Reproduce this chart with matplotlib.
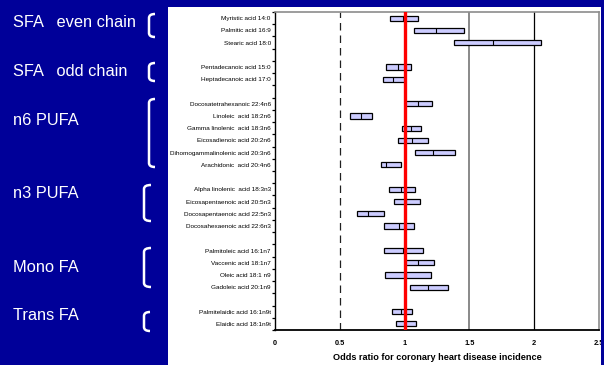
import matplotlib
matplotlib.use("Agg")
import matplotlib.pyplot as plt
import numpy as np
from matplotlib.patches import Rectangle, PathPatch
from matplotlib.path import Path
from matplotlib.transforms import Affine2D

plt.rcParams['font.family'] = ['Liberation Sans', 'DejaVu Sans']

# ---- data -------------------------------------------------------------
groups = ["SFA   even chain", "SFA   odd chain", "n6 PUFA", "n3 PUFA", "Mono FA", "Trans FA"]
acids = [
    "Myristic acid 14:0", "Palmitic acid 16:9", "Stearic acid 18:0",
    "Pentadecanoic acid 15:0", "Heptadecanoic acid 17:0",
    "Docosatetrahexanoic 22:4n6", "Linoleic  acid 18:2n6", "Gamma linolenic  acid 18:3n6",
    "Eicosadienoic acid 20:2n6", "Dihomogammalinolenic acid 20:3n6", "Arachidonic  acid 20:4n6",
    "Alpha linolenic  acid 18:3n3", "Eicosapentaenoic acid 20:5n3",
    "Docosapentaenoic acid 22:5n3", "Docosahexaenoic acid 22:6n3",
    "Palmitoleic acid 16:1n7", "Vaccenic acid 18:1n7", "Oleic acid 18:1 n9", "Gadoleic acid 20:1n9",
    "Palmitelaidic acid 16:1n9t", "Elaidic acid 18:1n9t",
]
acid_group = [0, 0, 0, 1, 1, 2, 2, 2, 2, 2, 2, 3, 3, 3, 3, 4, 4, 4, 4, 5, 5]
ci_low = [0.89, 1.07, 1.38, 0.86, 0.83, 1.00, 0.58, 0.98, 0.95, 1.08, 0.82,
          0.88, 0.92, 0.63, 0.84, 0.84, 1.00, 0.85, 1.04, 0.905, 0.93]
odds = [0.985, 1.24, 1.68, 0.95, 0.91, 1.10, 0.665, 1.05, 1.06, 1.22, 0.86,
        0.97, 1.01, 0.72, 0.96, 0.985, 1.10, 1.01, 1.18, 0.97, 1.00]
ci_high = [1.10, 1.46, 2.05, 1.05, 1.00, 1.21, 0.75, 1.13, 1.18, 1.39, 0.975,
           1.08, 1.12, 0.84, 1.075, 1.145, 1.225, 1.205, 1.335, 1.055, 1.09]
x_ticks = [0, 0.5, 1, 1.5, 2, 2.5]
x_tick_labels = ["0", "0.5", "1", "1.5", "2", "2.5"]
reference_or = 1.0

# ---- figure -----------------------------------------------------------
W, H = 604, 365
BG = '#000099'
fig = plt.figure(figsize=(W / 100, H / 100), dpi=100, facecolor=BG)
px = Affine2D().scale(1 / W, -1 / H).translate(0, 1) + fig.transFigure

# white chart panel
fig.patches.append(Rectangle((168, 7), 433, 360, transform=px, facecolor='white',
                             edgecolor='none', zorder=-5))

ax = fig.add_axes([275 / W, 1 - 330 / H, 324 / W, 318 / H])
ax.set_facecolor('white')

# row positions: one empty row between consecutive groups
ypos = np.arange(len(acids)) + np.array(acid_group) + 0.5
n_rows = len(acids) + len(groups) - 1

ax.set_xlim(0, 2.5)
ax.set_ylim(n_rows, 0)

# reference lines
ax.axvline(0.5, color='#202020', lw=0.9, ls=(0, (6, 4)), zorder=1)
ax.axvline(1.5, color='#808080', lw=1.3, zorder=1)
ax.axvline(2.0, color='black', lw=0.9, zorder=1)

# confidence interval boxes with point estimate
ci_low_a = np.array(ci_low)
ci_high_a = np.array(ci_high)
bh = 0.42
ax.barh(ypos, ci_high_a - ci_low_a, left=ci_low_a, height=bh, color='#ccccff',
        edgecolor='black', linewidth=0.9, zorder=3)
ax.vlines(odds, ypos - bh / 2, ypos + bh / 2, color='black', lw=0.8, zorder=4)

ax.axvline(reference_or, color='#ff0000', lw=2.4, zorder=6)

# axes styling
for s in ('top', 'right'):
    ax.spines[s].set_color('#8c8c8c')
    ax.spines[s].set_linewidth(1.2)
ax.spines['left'].set_color('black')
ax.spines['left'].set_linewidth(1.0)
ax.spines['bottom'].set_color('black')
ax.spines['bottom'].set_linewidth(1.3)

ax.set_yticks(np.arange(n_rows + 1))
ax.set_yticklabels([])
ax.set_yticks(ypos, minor=True)
ax.set_yticklabels(acids, minor=True, fontsize=4.6)
ax.tick_params(axis='y', which='major', length=2.5, width=0.9, color='black', direction='out')
ax.tick_params(axis='y', which='minor', length=0, pad=3)

ax.set_xticks(x_ticks)
ax.set_xticklabels(x_tick_labels, fontsize=5.3, fontweight='bold')
ax.tick_params(axis='x', length=0, pad=7.5)
ax.set_xlabel("Odds ratio for coronary heart disease incidence", fontsize=6.6,
              fontweight='bold', labelpad=4)

# group captions and brackets on the blue margin
caption_y = [22.7, 71.7, 120.7, 194, 267.7, 315.7]
bracket_spans = [(149, 155, 14, 37), (149, 155, 63, 81), (149, 155, 99, 167),
                 (144, 151, 185, 221), (144, 151, 248, 287), (144, 150, 312, 331)]
for name, cy in zip(groups, caption_y):
    fig.text(13 / W, 1 - cy / H, name, color='white', fontsize=11.8, va='center', ha='left')

for x0, x1, top, bot in bracket_spans:
    r = 4
    verts = [(x1, top), (x0, top), (x0, top + r), (x0, bot - r), (x0, bot), (x1, bot)]
    codes = [Path.MOVETO, Path.CURVE3, Path.CURVE3, Path.LINETO, Path.CURVE3, Path.CURVE3]
    fig.patches.append(PathPatch(Path(verts, codes), transform=px, facecolor='none',
                                 edgecolor='white', lw=1.8, capstyle='butt'))

# narrow blue strip along the right edge
fig.patches.append(Rectangle((601, 0), 5, 370, transform=px, facecolor=BG,
                             edgecolor='none', zorder=20))

fig.savefig("out.png", dpi=100, facecolor=BG)
